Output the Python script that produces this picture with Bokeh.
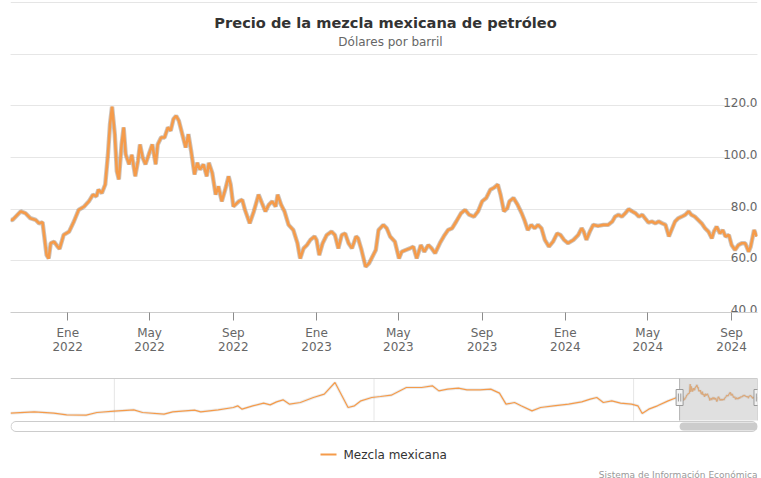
import pandas as pd
from bokeh.plotting import figure
from bokeh.layouts import column
from bokeh.models import Range1d, FixedTicker, Grid, ColumnDataSource
from bokeh.core.properties import value
from bokeh.embed import file_html
from bokeh.resources import INLINE

# ---------------- data ----------------
TITLE = "Precio de la mezcla mexicana de petróleo"
SUBTITLE = "Dólares por barril"
SERIES_NAME = "Mezcla mexicana"
CREDITS = "Sistema de Información Económica"

dates = [
    "2021-10-09", "2021-10-12", "2021-10-24", "2021-10-31", "2021-11-07", "2021-11-15", "2021-11-20", "2021-11-25",
    "2021-12-01", "2021-12-04", "2021-12-07", "2021-12-12", "2021-12-17", "2021-12-20", "2021-12-26",
    "2022-01-03", "2022-01-10", "2022-01-17", "2022-01-25", "2022-02-01", "2022-02-07", "2022-02-12",
    "2022-02-15", "2022-02-20", "2022-02-25", "2022-03-01", "2022-03-04", "2022-03-07", "2022-03-11",
    "2022-03-14", "2022-03-17", "2022-03-21", "2022-03-24", "2022-03-27", "2022-04-01", "2022-04-05",
    "2022-04-10", "2022-04-14", "2022-04-17", "2022-04-21", "2022-04-25", "2022-04-30", "2022-05-05",
    "2022-05-10", "2022-05-13", "2022-05-18", "2022-05-23", "2022-05-28", "2022-06-01", "2022-06-05",
    "2022-06-09", "2022-06-13", "2022-06-18", "2022-06-23", "2022-06-27", "2022-07-01", "2022-07-06",
    "2022-07-10", "2022-07-14", "2022-07-19", "2022-07-24", "2022-07-27", "2022-08-01", "2022-08-06",
    "2022-08-10", "2022-08-15", "2022-08-20", "2022-08-25", "2022-08-28", "2022-09-01", "2022-09-09",
    "2022-09-14", "2022-09-18", "2022-09-25", "2022-10-01", "2022-10-08", "2022-10-13", "2022-10-18",
    "2022-10-23", "2022-10-28", "2022-11-02", "2022-11-05", "2022-11-10", "2022-11-15", "2022-11-21",
    "2022-11-28", "2022-12-04", "2022-12-08", "2022-12-13", "2022-12-18", "2022-12-23", "2022-12-29",
    "2023-01-01", "2023-01-05", "2023-01-10", "2023-01-16", "2023-01-23", "2023-01-28", "2023-02-02",
    "2023-02-07", "2023-02-12", "2023-02-17", "2023-02-22", "2023-02-28", "2023-03-03", "2023-03-08",
    "2023-03-14", "2023-03-19", "2023-03-24", "2023-03-29", "2023-04-02", "2023-04-09", "2023-04-14",
    "2023-04-19", "2023-04-26", "2023-05-02", "2023-05-06", "2023-05-12", "2023-05-18", "2023-05-23",
    "2023-05-28", "2023-06-03", "2023-06-08", "2023-06-14", "2023-06-19", "2023-06-24", "2023-07-01",
    "2023-07-08", "2023-07-13", "2023-07-19", "2023-07-25", "2023-08-01", "2023-08-07", "2023-08-13",
    "2023-08-20", "2023-08-26", "2023-09-01", "2023-09-07", "2023-09-13", "2023-09-18", "2023-09-24",
    "2023-09-28", "2023-10-03", "2023-10-08", "2023-10-11", "2023-10-17", "2023-10-23", "2023-10-29",
    "2023-11-02", "2023-11-07", "2023-11-12", "2023-11-17", "2023-11-22", "2023-11-27", "2023-12-02",
    "2023-12-08", "2023-12-14", "2023-12-20", "2023-12-25", "2023-12-30", "2024-01-05", "2024-01-13",
    "2024-01-20", "2024-01-25", "2024-01-28", "2024-02-01", "2024-02-06", "2024-02-11", "2024-02-18",
    "2024-02-26", "2024-03-04", "2024-03-10", "2024-03-14", "2024-03-19", "2024-03-24", "2024-03-29",
    "2024-04-03", "2024-04-08", "2024-04-13", "2024-04-18", "2024-04-23", "2024-04-28", "2024-05-02",
    "2024-05-07", "2024-05-12", "2024-05-17", "2024-05-22", "2024-05-27", "2024-06-01", "2024-06-05",
    "2024-06-10", "2024-06-15", "2024-06-20", "2024-06-25", "2024-06-30", "2024-07-04", "2024-07-09",
    "2024-07-14", "2024-07-19", "2024-07-24", "2024-07-29", "2024-08-03", "2024-08-06", "2024-08-10",
    "2024-08-15", "2024-08-19", "2024-08-23", "2024-08-28", "2024-09-01", "2024-09-06", "2024-09-11",
    "2024-09-16", "2024-09-21", "2024-09-26", "2024-09-29", "2024-10-04", "2024-10-08",
]
prices = [
    75.9, 75.8, 79.1, 78.4, 76.5, 75.8, 74.5, 74.9,
    62.2, 60.9, 66.8, 67.4, 65.5, 64.6, 70.0,
    71.3, 75.2, 79.7, 81.0, 83.0, 85.6, 84.9,
    87.5, 86.2, 89.5, 101.2, 112.9, 119.6, 109.0,
    94.7, 91.5, 105.0, 111.6, 101.2, 97.3, 101.0,
    92.7, 98.6, 105.0, 99.9, 97.3, 101.2, 105.0,
    97.3, 105.0, 107.7, 107.7, 111.6, 110.3, 114.8,
    116.1, 114.2, 109.0, 103.8, 109.0, 102.5, 93.4,
    97.9, 95.3, 97.3, 92.7, 97.9, 94.0, 85.6,
    88.8, 83.0, 87.5, 92.7, 89.5, 81.0, 83.0,
    83.6, 79.7, 74.5, 79.1, 85.6, 82.3, 79.1,
    81.7, 83.0, 81.0, 85.6, 81.7, 79.1, 73.9,
    71.9, 66.8, 60.9, 64.8, 66.1, 68.1, 69.4,
    68.1, 62.2, 66.8, 70.0, 71.3, 70.0, 64.8,
    70.0, 70.6, 66.8, 64.8, 69.4, 68.7, 64.2,
    57.7, 59.0, 61.6, 64.2, 71.9, 73.9, 72.6,
    69.4, 67.4, 60.9, 63.5, 64.2, 64.8, 65.5,
    60.9, 66.1, 63.5, 66.1, 64.8, 62.9, 66.8,
    70.0, 71.9, 72.6, 75.2, 78.4, 79.7, 77.8,
    77.1, 79.1, 83.0, 84.3, 87.5, 88.2, 89.5,
    85.6, 79.1, 80.4, 83.0, 84.3, 81.7, 78.4,
    75.8, 71.9, 73.9, 72.6, 73.9, 72.6, 68.1,
    65.5, 67.4, 70.6, 70.0, 68.1, 66.8, 68.1,
    70.0, 72.6, 71.3, 68.1, 71.3, 73.9, 73.5,
    73.9, 73.9, 75.2, 77.1, 77.8, 77.1, 78.4,
    80.0, 79.1, 78.4, 77.1, 77.8, 76.1, 74.8,
    75.2, 74.5, 75.2, 74.5, 73.9, 69.4, 72.0,
    75.2, 76.5, 77.1, 77.8, 79.1, 77.8, 77.1,
    75.8, 74.5, 72.6, 71.3, 68.7, 71.3, 73.2,
    70.6, 71.9, 69.4, 70.0, 66.1, 64.2, 66.1,
    66.8, 66.8, 63.5, 65.5, 71.9, 69.4,
]

# long history shown in the navigator (before the zoomed window)
history_dates = [
    "1996-01-01", "1996-12-01", "1997-09-01", "1998-03-01", "1998-12-01", "1999-05-01", "2000-01-01",
    "2000-10-01", "2001-02-01", "2001-12-01", "2002-04-01", "2003-02-01", "2003-05-01", "2004-01-01",
    "2004-08-01", "2004-10-01", "2004-12-01", "2005-05-01", "2005-10-01", "2006-01-01", "2006-04-01",
    "2006-07-01", "2006-10-01", "2007-03-01", "2007-09-01", "2008-02-01", "2008-07-01", "2009-01-01",
    "2009-04-01", "2009-07-01", "2009-12-01", "2010-04-01", "2010-09-01", "2011-04-01", "2011-11-01",
    "2012-04-01", "2012-07-01", "2012-11-01", "2013-04-01", "2013-08-01", "2014-02-01", "2014-07-01",
    "2014-11-01", "2015-02-01", "2015-06-01", "2015-09-01", "2016-02-01", "2016-06-01", "2016-12-01",
    "2017-07-01", "2018-01-01", "2018-05-01", "2018-08-01", "2018-11-01", "2019-03-01", "2019-07-01",
    "2019-12-01", "2020-03-01", "2020-05-01", "2020-08-01", "2020-12-01", "2021-05-01", "2021-09-01",
]
history_prices = [
    16.3, 21.0, 16.3, 10.3, 9.2, 18.6, 23.3,
    28.1, 18.6, 12.7, 21.0, 26.9, 21.0, 28.1,
    36.3, 42.3, 30.4, 42.3, 51.7, 45.8, 56.4,
    63.5, 48.2, 54.1, 71.8, 83.6, 125.0, 36.3,
    42.3, 60.0, 71.8, 75.4, 80.1, 107.3, 107.3,
    113.2, 95.4, 101.4, 104.9, 99.0, 99.0, 101.4,
    87.2, 48.2, 54.1, 42.3, 24.5, 36.3, 42.3,
    48.2, 56.4, 65.9, 71.8, 54.1, 60.0, 51.7,
    48.2, 42.3, 15.1, 30.4, 42.3, 60.0, 71.8,
]

x_tick_dates = ["2022-01-01", "2022-05-01", "2022-09-01", "2023-01-01", "2023-05-01",
                "2023-09-01", "2024-01-01", "2024-05-01", "2024-09-01"]
x_tick_labels = ["Ene\n2022", "May\n2022", "Sep\n2022", "Ene\n2023", "May\n2023",
                 "Sep\n2023", "Ene\n2024", "May\n2024", "Sep\n2024"]
y_label_values = [40, 60, 80, 100, 120]
y_label_texts = ["40.0", "60.0", "80.0", "100.0", "120.0"]
y_grid_values = [60, 80, 100, 120, 140]
nav_grid_dates = ["2000-01-01", "2010-01-01", "2020-01-01"]
window_start, window_end = "2021-10-09", "2024-10-09"
history_start = "1996-01-01"

# ---------------- style ----------------
FONT = "DejaVu Sans"
ORANGE = "#f59b4a"
W = 761
H1, H2 = 370, 108
LEFT, RIGHT = 10, 757    # plot area left/right (px)
FRAME_H = 312            # main plot frame height (px)
PX_PER_UNIT = 2.585      # vertical scale of the main plot

def ms(d):
    return pd.Timestamp(d).value // 10**6

# ---------------- main chart ----------------
x0, x1 = pd.Timestamp(window_start), pd.Timestamp(window_end)
p = figure(width=W, height=H1, x_axis_type="datetime",
           x_range=Range1d(x0, x1), y_range=Range1d(40, 40 + FRAME_H / PX_PER_UNIT),
           y_axis_location=None, toolbar_location=None, output_backend="svg",
           min_border_left=LEFT, min_border_right=W - RIGHT, min_border_top=0,
           min_border_bottom=H1 - FRAME_H)
p.outline_line_color = None
p.background_fill_color = "white"
p.border_fill_color = "white"
p.xgrid.visible = False
p.add_layout(Grid(dimension=1, ticker=FixedTicker(ticks=y_grid_values),
                  grid_line_color="#e6e6e6", grid_line_width=1))

ax = p.xaxis[0]
tick_ms = [ms(d) for d in x_tick_dates]
ax.ticker = FixedTicker(ticks=tick_ms, minor_ticks=[])
ax.major_label_overrides = {t: lab for t, lab in zip(tick_ms, x_tick_labels)}
ax.axis_line_color = "#cccccc"
ax.major_tick_line_color = "#8c8c8c"
ax.major_tick_out = 8
ax.major_tick_in = 0
ax.minor_tick_line_color = None
ax.major_label_standoff = 5
ax.major_label_text_font = FONT
ax.major_label_text_font_size = "12px"
ax.major_label_text_color = "#666666"
ax.major_label_text_line_height = 1.0

src = ColumnDataSource(dict(date=pd.to_datetime(dates), price=prices))
p.line("date", "price", source=src, line_color="#6e5440", line_alpha=0.35, line_width=4.4)
p.line("date", "price", source=src, line_color=ORANGE, line_width=2.6)

ysrc = ColumnDataSource(dict(x=[x1] * len(y_label_values), y=y_label_values, t=y_label_texts))
p.text(x="x", y="y", text="t", source=ysrc, text_align="right", text_baseline="alphabetic",
       y_offset=-3, text_font=value(FONT), text_font_size="12px", text_color="#666666")

# title block in pixel units of the frame
p.extra_x_ranges = {"px": Range1d(LEFT, RIGHT)}
p.extra_y_ranges = {"py": Range1d(FRAME_H, 0)}
p.text(x=[385], y=[22.3], text=[TITLE], x_range_name="px", y_range_name="py",
       text_align="center", text_baseline="alphabetic", text_font=value(FONT),
       text_font_size="14.6px", text_font_style="bold", text_color="#333333")
p.text(x=[390], y=[41.7], text=[SUBTITLE], x_range_name="px", y_range_name="py",
       text_align="center", text_baseline="alphabetic", text_font=value(FONT),
       text_font_size="12px", text_color="#666666")

# ---------------- navigator / scrollbar / legend ----------------
# frame of this figure is aligned with the main plot area (LEFT..RIGHT); coordinates are page pixels
q = figure(width=W, height=H2, x_range=Range1d(LEFT, RIGHT), y_range=Range1d(H2, 0),
           x_axis_location=None, y_axis_location=None, toolbar_location=None,
           output_backend="svg", min_border_left=LEFT, min_border_right=W - RIGHT,
           min_border_top=0, min_border_bottom=0)
q.outline_line_color = None
q.background_fill_color = "white"
q.border_fill_color = "white"
q.grid.visible = False

NAV_T, NAV_B = 8, 50           # navigator top/bottom (px within this figure)
NAV_VMIN, NAV_VMAX = -9.75, 139.2
ns, ne = ms(history_start), ms(window_end)
mpp = (ne - ns) / (RIGHT - LEFT)
q.extra_x_ranges = {"nx": Range1d(ns, ne)}
ppu = (NAV_B - NAV_T) / (NAV_VMAX - NAV_VMIN)
q.extra_y_ranges = {"ny": Range1d(NAV_VMIN - (H2 - NAV_B) / ppu, NAV_VMAX + NAV_T / ppu)}

gd = pd.to_datetime(nav_grid_dates)
q.segment(x0=gd, y0=[NAV_T] * len(gd), x1=gd, y1=[NAV_B] * len(gd), x_range_name="nx",
          line_color="#e6e6e6", line_width=1)

nav_src = ColumnDataSource(dict(date=pd.to_datetime(history_dates + dates), price=history_prices + prices))
q.line("date", "price", source=nav_src, x_range_name="nx", y_range_name="ny",
       line_color="#000000", line_alpha=0.08, line_width=3)
q.line("date", "price", source=nav_src, x_range_name="nx", y_range_name="ny",
       line_color=ORANGE, line_width=1.2)

# selected window mask
q.quad(left=[x0], right=[x1], top=[NAV_T], bottom=[NAV_B], x_range_name="nx",
       fill_color="#bbbbbb", fill_alpha=0.45, line_color=None)
q.segment(x0=[LEFT], y0=[NAV_T], x1=[RIGHT], y1=[NAV_T], line_color="#cccccc", line_width=1)
q.segment(x0=[x0, x1], y0=[NAV_T, NAV_T], x1=[x0, x1], y1=[NAV_B, NAV_B], x_range_name="nx",
          line_color="#b3b3b3", line_width=1)

# scrollbar
q.quad(left=[LEFT + 0.5], right=[RIGHT - 0.5], top=[51], bottom=[61], fill_color="white",
       line_color="#cccccc", line_width=1, border_radius=5)
q.quad(left=[x0], right=[x1], top=[52], bottom=[60], x_range_name="nx",
       fill_color="#cccccc", line_color=None, border_radius=4)

# handles
hx = [x0, x1]
q.rect(x=hx, y=[27, 27], width=7, height=16, width_units="screen", height_units="screen",
       x_range_name="nx", fill_color="#f2f2f2", line_color="#999999", line_width=1)
inner = [ms(window_start) - 1.2 * mpp, ms(window_start) + 1.2 * mpp,
         ms(window_end) - 1.2 * mpp, ms(window_end) + 1.2 * mpp]
q.segment(x0=inner, y0=[23] * 4, x1=inner, y1=[31] * 4, x_range_name="nx",
          line_color="#999999", line_width=1)

# legend
q.segment(x0=[320], y0=[84], x1=[336], y1=[84], line_color=ORANGE, line_width=2)
q.text(x=[343], y=[84], text=[SERIES_NAME], text_align="left", text_baseline="middle",
       text_font=value(FONT), text_font_size="12px", text_color="#333333")

# credits
q.text(x=[RIGHT], y=[104], text=[CREDITS], text_align="right", text_baseline="alphabetic",
       text_font=value(FONT), text_font_size="9px", text_color="#999999")

layout = column(p, q, spacing=0)
open("out.html", "w").write(file_html(layout, INLINE))
